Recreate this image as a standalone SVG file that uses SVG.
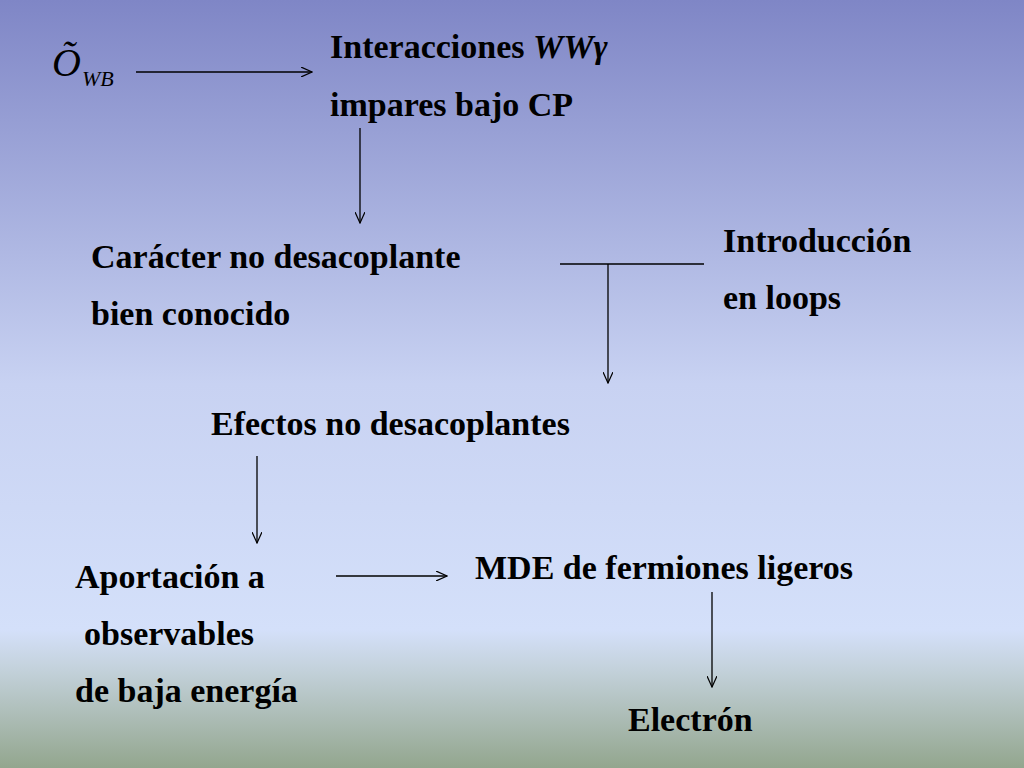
<svg xmlns="http://www.w3.org/2000/svg" width="1024" height="768" viewBox="0 0 1024 768">
<defs>
<linearGradient id="bg" x1="0" y1="0" x2="0" y2="1">
<stop offset="0" stop-color="#7f86c6"/>
<stop offset="0.5" stop-color="#c8d2f2"/>
<stop offset="0.82" stop-color="#d4e0fa"/>
<stop offset="0.87" stop-color="#c4d2dc"/>
<stop offset="1" stop-color="#93a68e"/>
</linearGradient>
<marker id="ah" viewBox="0 0 12 10" refX="11" refY="5" markerWidth="12" markerHeight="10" markerUnits="userSpaceOnUse" orient="auto">
<path d="M0,0 L11,5 L0,10" fill="none" stroke="#000" stroke-width="1.2"/>
</marker>
<style>
.t{font-family:"Liberation Serif",serif;font-weight:bold;font-size:34px;fill:#000}
.c{stroke:#000;stroke-width:1.3;fill:none}
</style>
</defs>
<rect width="1024" height="768" fill="url(#bg)"/>
<g id="n-owb"><text x="52" y="76" font-family="Liberation Serif,serif" font-style="italic" font-size="40">Õ</text><text x="82" y="86" font-family="Liberation Serif,serif" font-style="italic" font-size="22">WB</text></g>
<g id="n-inter"><text class="t" x="330" y="58">Interacciones <tspan font-style="italic">WWγ</tspan></text><text class="t" x="330" y="116">impares bajo CP</text></g>
<g id="n-caracter"><text class="t" x="91" y="268">Carácter no desacoplante</text><text class="t" x="91" y="325">bien conocido</text></g>
<g id="n-intro"><text class="t" x="723" y="252">Introducción</text><text class="t" x="723" y="309">en loops</text></g>
<g id="n-efectos"><text class="t" x="211" y="435">Efectos no desacoplantes</text></g>
<g id="n-aport"><text class="t" x="75" y="588">Aportación a</text><text class="t" x="84" y="645">observables</text><text class="t" x="75" y="702">de baja energía</text></g>
<g id="n-mde"><text class="t" x="475" y="579">MDE de fermiones ligeros</text></g>
<g id="n-elec"><text class="t" x="628" y="731">Electrón</text></g>
<g id="connectors">
<line class="c" x1="136" y1="72" x2="312" y2="72" marker-end="url(#ah)"/>
<line class="c" x1="360" y1="128" x2="360" y2="223" marker-end="url(#ah)"/>
<line class="c" x1="560" y1="264" x2="704" y2="264"/>
<line class="c" x1="608" y1="264" x2="608" y2="383" marker-end="url(#ah)"/>
<line class="c" x1="257" y1="456" x2="257" y2="543" marker-end="url(#ah)"/>
<line class="c" x1="336" y1="576" x2="447" y2="576" marker-end="url(#ah)"/>
<line class="c" x1="712" y1="592" x2="712" y2="687" marker-end="url(#ah)"/>
</g>
</svg>
